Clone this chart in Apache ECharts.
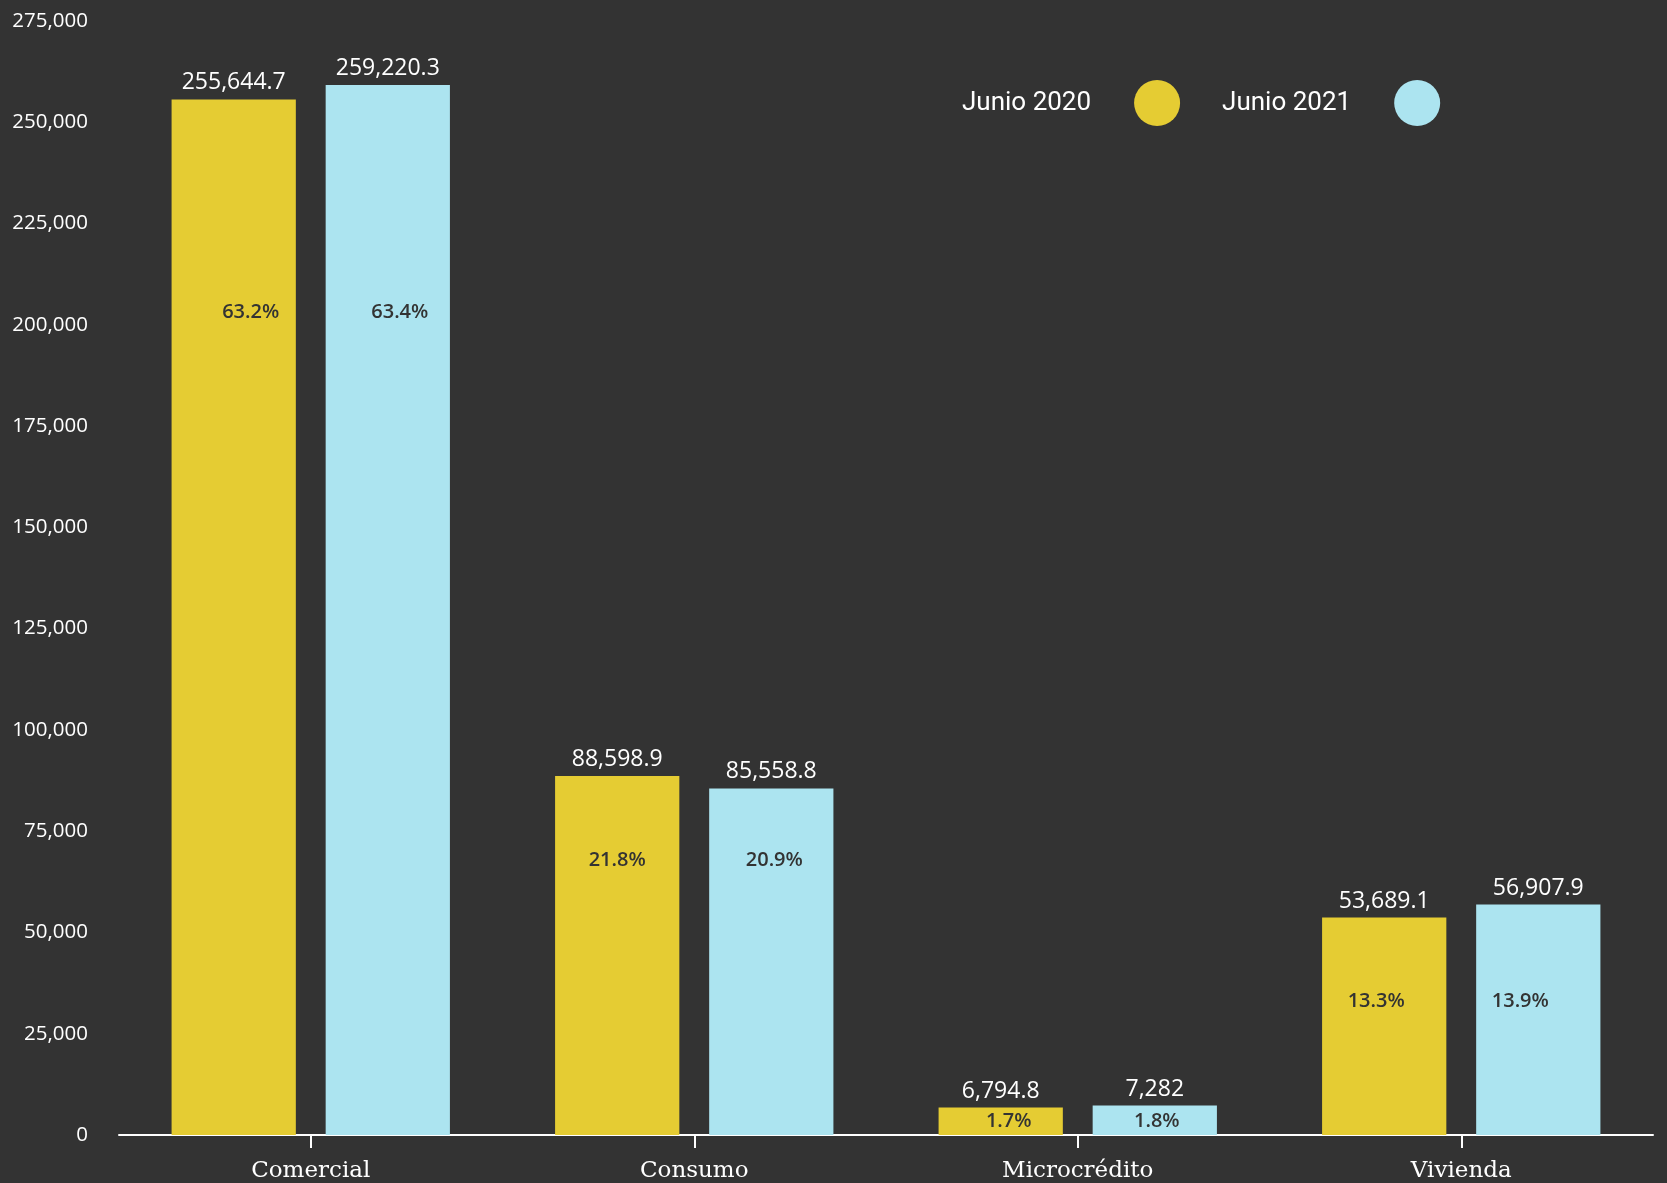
<!DOCTYPE html>
<html>
<head>
<meta charset="utf-8">
<script src="https://cdn.jsdelivr.net/npm/echarts@6/dist/echarts.min.js"></script>
<style>
html,body{margin:0;padding:0;background:#333333;}
#chart{width:1667px;height:1183px;}
</style>
</head>
<body>
<div id="chart"></div>
<script>
// ---- data ----
const categories = ['Comercial', 'Consumo', 'Microcrédito', 'Vivienda'];
const seriesNames = ['Junio 2020', 'Junio 2021'];
const values2020 = [255644.7, 88598.9, 6794.8, 53689.1];
const values2021 = [259220.3, 85558.8, 7282, 56907.9];
const share2020 = ['63.2%', '21.8%', '1.7%', '13.3%'];
const share2021 = ['63.4%', '20.9%', '1.8%', '13.9%'];
const yTicks = [0, 25000, 50000, 75000, 100000, 125000, 150000, 175000, 200000, 225000, 250000, 275000];

// ---- layout (not data) ----
const W = 1667, H = 1183;
const grid = {left: 119, right: 14, top: 21, bottom: 48};
const yMax = 275000;
const pxPerUnit = (H - grid.top - grid.bottom) / yMax;
// level (in axis units) at which the share label sits, per category
const shareLevel = [203000, 67700, 3400, 33000];
const shareDx2020 = [17, 0, 8, -8];
const shareDx2021 = [12, 3, 2, -18];

const YELLOW = '#E5CC33', BLUE = '#ACE4F0';
const fmt = v => v.toLocaleString('en-US', {maximumFractionDigits: 1});

const chart = echarts.init(document.getElementById('chart'), null, {renderer: 'canvas'});

function makeSeries(name, vals, shares, dxs, color) {
  return [{
    name: name,
    type: 'bar',
    xAxisIndex: 0,
    barWidth: '32.4%',
    barGap: '24%',
    itemStyle: {color: color},
    data: vals.map((v, i) => ({
      value: v,
      label: {
        show: true,
        position: ['50%', (v - shareLevel[i]) * pxPerUnit],
        align: 'center',
        verticalAlign: 'middle',
        offset: [dxs[i], 0],
        formatter: shares[i],
        color: '#333333', fontSize: 20, fontFamily: 'Open Sans', fontWeight: 600
      }
    })),
    emphasis: {disabled: true}
  }, {
    name: name,
    type: 'bar',
    xAxisIndex: 1,
    barWidth: '32.4%',
    barGap: '24%',
    itemStyle: {color: 'rgba(0,0,0,0)'},
    label: {
      show: true, position: 'top', distance: 5,
      color: '#ffffff', fontSize: 23, fontFamily: 'Open Sans',
      formatter: p => fmt(p.value)
    },
    data: vals.slice(),
    emphasis: {disabled: true},
    silent: true
  }];
}

const s1 = makeSeries(seriesNames[0], values2020, share2020, shareDx2020, YELLOW);
const s2 = makeSeries(seriesNames[1], values2021, share2021, shareDx2021, BLUE);

chart.setOption({
  backgroundColor: '#333333',
  animation: false,
  grid: grid,
  legend: {
    data: [{name: seriesNames[0], itemStyle: {color: YELLOW}}, {name: seriesNames[1], itemStyle: {color: BLUE}}],
    left: 957, top: 75,
    align: 'right',
    icon: 'circle',
    itemWidth: 122, itemHeight: 46,
    itemGap: 42,
    textStyle: {color: '#ffffff', fontSize: 26, fontFamily: 'Roboto'}
  },
  xAxis: [{
    type: 'category',
    data: categories,
    axisLine: {lineStyle: {color: '#ffffff', width: 2}},
    axisTick: {show: true, alignWithLabel: true, length: 13, lineStyle: {color: '#ffffff', width: 2}},
    axisLabel: {color: '#ffffff', fontSize: 23, fontFamily: 'DejaVu Serif', margin: 25}
  }, {
    type: 'category',
    data: categories,
    show: false
  }],
  yAxis: {
    type: 'value',
    min: 0, max: yMax, interval: 25000,
    splitLine: {show: false},
    axisLine: {show: false},
    axisTick: {show: false},
    axisLabel: {color: '#ffffff', fontSize: 20.5, fontFamily: 'Open Sans', margin: 31,
      formatter: v => yTicks.includes(v) ? fmt(v) : ''}
  },
  series: [s1[0], s2[0], s1[1], s2[1]]
});
</script>
</body>
</html>
